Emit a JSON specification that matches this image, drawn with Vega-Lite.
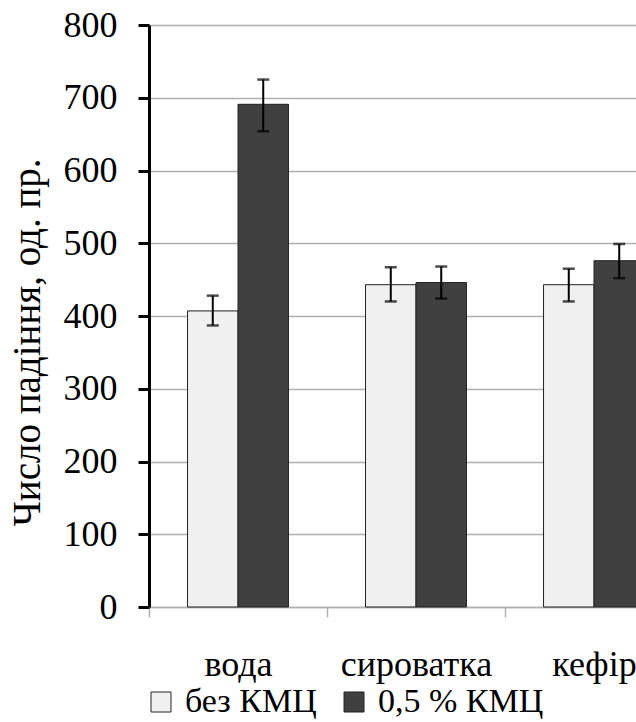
{
  "$schema": "https://vega.github.io/schema/vega-lite/v6.json",
  "autosize": {"type": "none"},
  "padding": {"left": 149, "top": 25, "right": 0, "bottom": 115},
  "width": 487,
  "height": 582,
  "background": "white",
  "config": {
    "view": {"stroke": null},
    "font": "Liberation Serif"
  },
  "data": {
    "values": [
      {"cat": "вода", "group": "без КМЦ", "value": 407, "lo": 387, "hi": 428},
      {"cat": "вода", "group": "0,5 % КМЦ", "value": 691, "lo": 654, "hi": 725},
      {"cat": "сироватка", "group": "без КМЦ", "value": 443, "lo": 420, "hi": 467},
      {"cat": "сироватка", "group": "0,5 % КМЦ", "value": 446, "lo": 424, "hi": 468},
      {"cat": "кефір", "group": "без КМЦ", "value": 443, "lo": 420, "hi": 465},
      {"cat": "кефір", "group": "0,5 % КМЦ", "value": 476, "lo": 452, "hi": 499}
    ]
  },
  "encoding": {
    "x": {
      "field": "cat",
      "type": "nominal",
      "sort": ["вода", "сироватка", "кефір"],
      "scale": {"range": [0, 534], "paddingInner": 0.433, "paddingOuter": 0.2165},
      "axis": {
        "title": null,
        "labelAngle": 0,
        "labelFont": "Liberation Serif",
        "labelFontSize": 36,
        "labelColor": "#000000",
        "labelBaseline": "alphabetic",
        "labelPadding": 58,
        "labelLimit": 400,
        "tickOffset": -89,
        "labelOffset": 89,
        "tickSize": 10,
        "tickColor": "#b0b0b0",
        "tickWidth": 1.5,
        "domainColor": "#b0b0b0",
        "domainWidth": 1.5,
        "grid": false
      }
    },
    "xOffset": {
      "field": "group",
      "type": "nominal",
      "sort": ["без КМЦ", "0,5 % КМЦ"],
      "scale": {"paddingInner": 0, "paddingOuter": 0}
    }
  },
  "layer": [
    {
      "mark": {"type": "bar", "stroke": "#222222", "strokeWidth": 1},
      "encoding": {
        "y": {
          "field": "value",
          "type": "quantitative",
          "scale": {"domain": [0, 800], "nice": false},
          "axis": {
            "title": "Число падіння, од. пр.",
            "titleFont": "Liberation Serif",
            "titleFontSize": 39,
            "titleFontWeight": "normal",
            "titleColor": "#000000",
            "titleBaseline": "alphabetic",
            "titleX": -110,
            "titleY": 317,
            "values": [0, 100, 200, 300, 400, 500, 600, 700, 800],
            "labelFont": "Liberation Serif",
            "labelFontSize": 36,
            "labelColor": "#000000",
            "labelPadding": 21,
            "tickSize": 11,
            "tickWidth": 3,
            "tickColor": "#000000",
            "domainColor": "#000000",
            "domainWidth": 3,
            "grid": true,
            "gridColor": "#b0b0b0",
            "gridWidth": 1.5
          }
        },
        "fill": {
          "field": "group",
          "type": "nominal",
          "sort": ["без КМЦ", "0,5 % КМЦ"],
          "scale": {"domain": ["без КМЦ", "0,5 % КМЦ"], "range": ["#f0f0f0", "#404040"]},
          "legend": {
            "title": null,
            "orient": "none",
            "direction": "horizontal",
            "legendX": -5,
            "legendY": 660,
            "padding": 0,
            "symbolType": "square",
            "symbolSize": 400,
            "symbolStrokeColor": "#222222",
            "symbolStrokeWidth": 1,
            "labelFont": "Liberation Serif",
            "labelFontSize": 34,
            "labelColor": "#000000",
            "labelLimit": 400,
            "labelOffset": 7,
            "columnPadding": 20
          }
        }
      }
    },
    {
      "mark": {"type": "rule", "color": "#000000", "strokeWidth": 2},
      "encoding": {
        "y": {"field": "lo", "type": "quantitative"},
        "y2": {"field": "hi"}
      }
    },
    {
      "mark": {"type": "tick", "color": "#000000", "size": 12, "thickness": 2.5},
      "encoding": {
        "y": {"field": "lo", "type": "quantitative"}
      }
    },
    {
      "mark": {"type": "tick", "color": "#000000", "size": 12, "thickness": 2.5},
      "encoding": {
        "y": {"field": "hi", "type": "quantitative"}
      }
    }
  ]
}
